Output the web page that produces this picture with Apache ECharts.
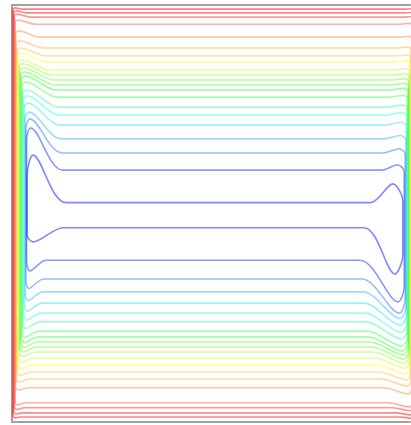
<!DOCTYPE html>
<html><head><meta charset="utf-8">
<script src="https://cdn.jsdelivr.net/npm/echarts@6/dist/echarts.min.js"></script>
<style>html,body{margin:0;padding:0;background:#fff}#c{width:411px;height:425px}</style>
</head><body><div id="c"></div>
<script>
// Streamline contours of a square cavity, outermost (k=0) to innermost (k=20).
// Coordinates in cavity units: x 0..100 (left to right), y 0..100 (bottom to top).
const topY    = [99.0,98.1,97.1,95.4,92.3,89.7,87.8,86.3,84.4,83.2,82.0,80.8,79.6,77.9,75.5,73.6,71.2,67.9,64.5,60.4,52.6];
const botY    = [1.2,2.2,3.4,4.6,8.2,10.3,12.0,13.7,15.3,16.8,18.0,19.2,20.4,21.8,24.0,26.1,28.5,31.2,34.3,38.8,46.6];
const leftX   = [0.25,0.45,0.6,0.8,0.95,1.1,1.3,1.45,1.65,1.8,2.0,2.15,2.35,2.5,2.7,2.9,3.1,3.3,3.5,3.65,3.8];
const rightX  = [101.2,101.0,100.8,100.6,100.4,100.25,100.1,100.0,99.9,99.8,99.7,99.6,99.5,99.4,99.3,99.2,99.1,99.0,98.8,98.55,98.2];
// top-left hump
const tlBendX = [2.5,3.5,4.5,5.8,7.0,7.8,8.5,9.0,9.5,10.0,10.5,10.8,11.1,11.3,11.6,11.8,12.1,12.3,12.6,12.8,13.6];
const tlPeakX = [0.8,1.0,1.2,1.5,1.7,1.9,2.1,2.3,2.5,2.7,2.9,3.1,3.3,3.5,3.7,3.9,4.1,4.3,4.5,4.7,5.3];
const tlPeakY = [99.3,98.6,97.8,96.4,93.8,91.4,89.7,88.5,86.8,85.9,84.9,83.9,83.0,81.5,79.6,78.2,76.5,74.3,72.7,70.5,64.0];
const tlWallY = [98.9,98.2,97.3,95.9,93.2,90.8,89.1,87.9,86.2,85.3,84.3,83.3,82.3,80.8,78.8,77.3,75.4,72.9,70.6,67.8,59.2];
// top-right corner
const trBendX = [98.5,98.3,98.0,97.6,97.2,96.8,96.4,96.0,95.7,95.4,95.1,94.8,94.5,94.2,94.0,93.8,93.6,93.4,93.2,93.0,90.0];
const trPeakX = [100.6,100.4,100.2,100.0,99.8,99.6,99.4,99.3,99.2,99.0,98.9,98.8,98.6,98.4,98.2,98.0,97.8,97.6,97.3,96.8,95.7];
const trPeakY = [99.1,98.2,97.2,95.6,92.5,89.9,88.0,86.6,84.7,83.5,82.3,81.2,80.0,78.3,76.0,74.2,71.9,68.7,65.5,61.7,57.1];
const trWallY = [98.8,97.8,96.8,95.1,92.0,89.4,87.5,86.0,84.1,82.9,81.7,80.5,79.3,77.6,75.2,73.3,70.9,67.6,64.2,60.0,53.0];
// bottom-right dip
const brWallY = [1.4,2.4,3.5,4.6,7.9,9.9,11.5,13.0,14.5,15.8,16.9,17.9,19.0,20.3,22.0,23.8,25.8,27.7,29.6,32.5,40.0];
const brPeakX = [100.4,100.2,100.0,99.8,99.6,99.4,99.2,99.0,98.8,98.6,98.4,98.2,98.0,97.9,97.8,97.7,97.6,97.5,97.3,97.0,96.2];
const brPeakY = [0.9,1.7,2.7,3.6,6.7,8.6,10.1,11.5,12.9,14.1,15.1,16.1,17.0,18.2,19.9,21.5,23.2,24.8,26.1,28.8,35.5];
const brBendX = [97.5,96.5,95.5,94.5,93.5,92.8,92.2,91.7,91.2,90.8,90.4,90.0,89.6,89.3,89.0,88.7,88.4,88.2,87.9,87.4,88.4];
// bottom-left corner
const blBendX = [2.0,2.5,3.0,3.5,4.0,4.5,5.0,5.3,5.5,5.8,6.0,6.3,6.5,6.8,7.0,7.3,7.5,7.8,8.0,8.5,12.8];
const blPeakX = [0.8,1.0,1.2,1.4,1.6,1.8,2.0,2.2,2.4,2.6,2.8,3.0,3.1,3.2,3.4,3.6,3.8,4.0,4.2,4.5,5.3];
const blDipY  = [1.0,1.9,3.0,4.1,7.6,9.6,11.2,12.8,14.3,15.7,16.8,17.9,19.0,20.3,22.4,24.4,26.6,29.1,32.0,36.2,43.2];
const blWallY = [1.5,2.5,3.6,4.8,8.3,10.4,12.1,13.7,15.3,16.8,18.0,19.2,20.4,21.8,24.0,26.1,28.5,31.2,34.3,38.5,44.8];

const colors = ['#ff0000','#ff1010','#ff3030','#ff6040','#ff9040','#ffb040','#ffc840','#ffff33','#c8ff33','#99ff33','#70ff33','#50ff40','#33ff33','#40ff60','#40ff99','#40ffdd','#40ddff','#40bbff','#3377ff','#1133ff','#0011ff'];

const series = topY.map((_, k) => ({
  type: 'line',
  smooth: 0.3,
  symbol: 'none',
  clip: false,
  silent: true,
  lineStyle: { color: colors[k], width: 1.6, opacity: 0.5 },
  data: [
    [50, topY[k]],
    [trBendX[k], topY[k]],
    [trPeakX[k], trPeakY[k]],
    [rightX[k], trWallY[k]],
    [rightX[k], brWallY[k]],
    [brPeakX[k], brPeakY[k]],
    [brBendX[k], botY[k]],
    [50, botY[k]],
    [blBendX[k], botY[k]],
    [blPeakX[k], blDipY[k]],
    [leftX[k], blWallY[k]],
    [leftX[k], tlWallY[k]],
    [tlPeakX[k], tlPeakY[k]],
    [tlBendX[k], topY[k]],
    [50, topY[k]]
  ]
}));

const axisLine = { show: true, onZero: false, lineStyle: { color: '#a0a0a0', width: 2 } };
const hidden = { axisLabel: { show: false }, axisTick: { show: false }, splitLine: { show: false } };
const chart = echarts.init(document.getElementById('c'), null, { renderer: 'canvas' });
chart.setOption({
  animation: false,
  backgroundColor: '#ffffff',
  grid: { left: 12, right: 1, top: 5, bottom: 3, containLabel: false },
  xAxis: [
    Object.assign({ type: 'value', min: 0, max: 100, position: 'bottom', axisLine }, hidden),
    Object.assign({ type: 'value', min: 0, max: 100, position: 'top', axisLine }, hidden)
  ],
  yAxis: [Object.assign({ type: 'value', min: 0, max: 100, position: 'left', axisLine }, hidden)],
  series
});
</script></body></html>
